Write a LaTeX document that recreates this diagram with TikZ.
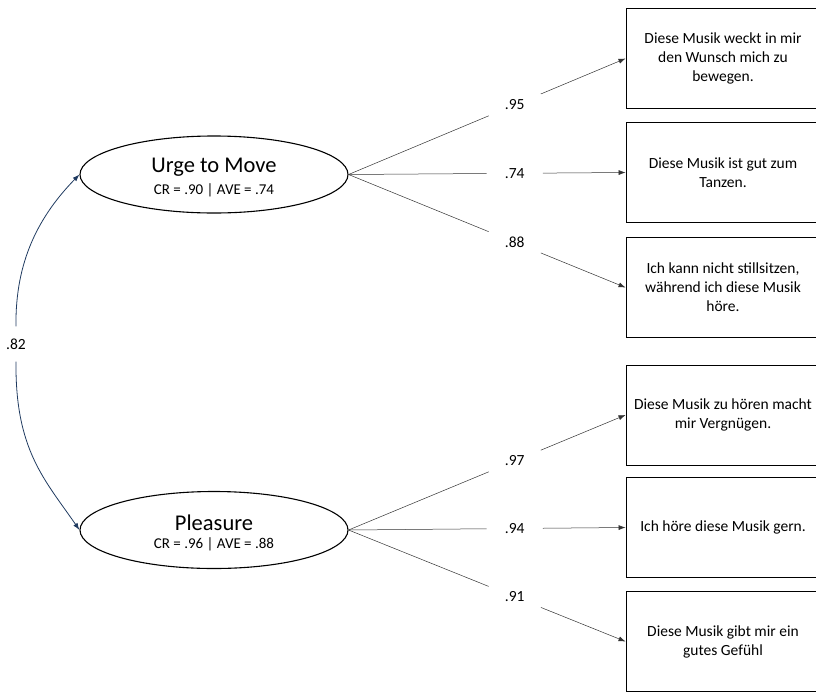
\documentclass[tikz,border=0pt]{standalone}
\usepackage{fontspec}
\setmainfont{Carlito}
\usetikzlibrary{arrows.meta,shapes.geometric}
\definecolor{covblue}{HTML}{1F3A60}
\tikzset{
  latent/.style={draw,ellipse,line width=1.1pt,minimum width=268pt,minimum height=77pt,inner sep=0pt},
  factor/.style={align=center,inner sep=0pt},
  item/.style={draw,line width=0.9pt,minimum width=194pt,minimum height=100pt,align=center,font=\fontsize{15.5}{19}\selectfont},
  load/.style={line width=0.5pt,draw=black!80},
  coef/.style={circle,minimum size=56pt,inner sep=0pt,font=\fontsize{15.5}{17}\selectfont},
  cov/.style={line width=0.8pt,draw=covblue}
}
\begin{document}
\begin{tikzpicture}[x=1pt,y=-1pt,>={Latex[length=7pt,width=5pt]}]
\useasboundingbox (0,0) rectangle (816,691);
\clip (0,0) rectangle (816,691);

\node[latent] (urge) at (214,174.5) {};
\node[latent] (pleasure) at (214,530) {};
\node[factor] (urgetext) at ([yshift=-3pt]urge.center) {{\fontsize{22.5}{24}\selectfont Urge to Move}\\[6pt]{\fontsize{15}{16}\selectfont CR = .90 | AVE = .74}};
\node[factor] (pleasuretext) at ([yshift=-3pt]pleasure.center) {{\fontsize{22.5}{24}\selectfont Pleasure}\\[6pt]{\fontsize{15}{16}\selectfont CR = .96 | AVE = .88}};

\node[item] (move1) at (723,58.5) {Diese Musik weckt in mir\\den Wunsch mich zu\\bewegen.};
\node[item] (move2) at (723,172.5) {Diese Musik ist gut zum\\Tanzen.};
\node[item] (move3) at (723,287.5) {Ich kann nicht stillsitzen,\\während ich diese Musik\\höre.};
\node[item] (fun1) at (723,415) {Diese Musik zu hören macht\\mir Vergnügen.};
\node[item] (fun2) at (723,527.5) {Ich höre diese Musik gern.};
\node[item] (fun3) at (723,641.5) {Diese Musik gibt mir ein\\gutes Gefühl};

\path (urge.east) -- node[coef,pos=0.6] (c1) {.95} (move1.west);
\path (urge.east) -- node[coef,pos=0.6] (c2) {.74} (move2.west);
\path (urge.east) -- node[coef,pos=0.6] (c3) {.88} (move3.west);
\path (pleasure.east) -- node[coef,pos=0.6] (c4) {.97} (fun1.west);
\path (pleasure.east) -- node[coef,pos=0.6] (c5) {.94} (fun2.west);
\path (pleasure.east) -- node[coef,pos=0.6] (c6) {.91} (fun3.west);

\draw[load] (urge.east) -- (c1); \draw[load,->] (c1) -- (move1.west);
\draw[load] (urge.east) -- (c2); \draw[load,->] (c2) -- (move2.west);
\draw[load] (urge.east) -- (c3); \draw[load,->] (c3) -- (move3.west);
\draw[load] (pleasure.east) -- (c4); \draw[load,->] (c4) -- (fun1.west);
\draw[load] (pleasure.east) -- (c5); \draw[load,->] (c5) -- (fun2.west);
\draw[load] (pleasure.east) -- (c6); \draw[load,->] (c6) -- (fun3.west);

\node[font=\fontsize{15.5}{17}\selectfont,minimum height=35pt,inner sep=0pt] (c82) at (16,344) {.82};
\draw[cov,->] (c82.north) .. controls (15,260) and (40,215) .. (urge.west);
\draw[cov,->] (c82.south) .. controls (15,450) and (45,480) .. (pleasure.west);
\end{tikzpicture}
\end{document}
